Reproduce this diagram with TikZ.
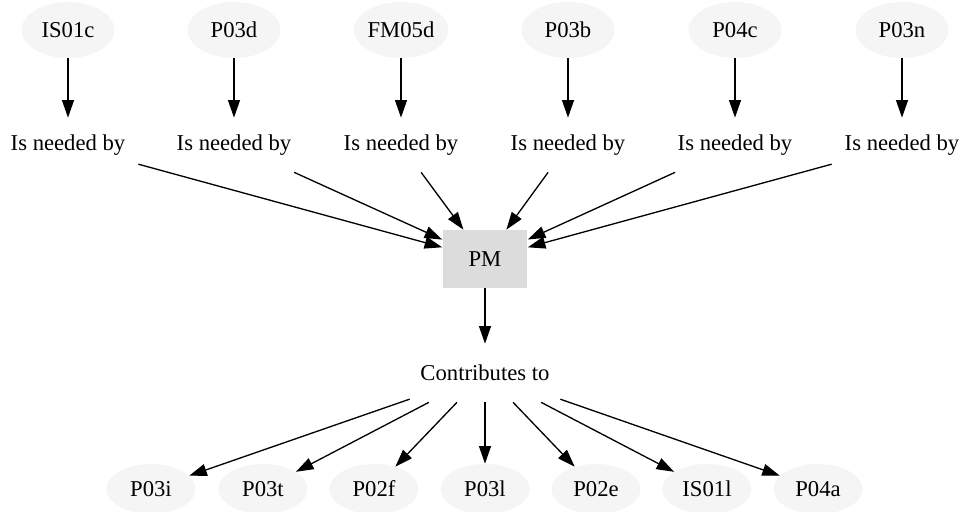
\documentclass[tikz,border=0pt]{standalone}
\usepackage{fontspec}
\setmainfont{Liberation Serif}
\usetikzlibrary{shapes.geometric,arrows.meta}
\definecolor{nodegray}{HTML}{F5F5F5}
\definecolor{boxgray}{HTML}{DCDCDC}
\tikzset{
  code/.style={ellipse,fill=nodegray,inner sep=0pt,minimum width=1.86cm,minimum height=1.12cm},
  relation/.style={inner sep=0pt,minimum width=2.8cm,minimum height=1.08cm},
  centre/.style={rectangle,fill=boxgray,inner sep=0pt,minimum width=1.7cm,minimum height=1.16cm},
  link/.style={->,line width=0.75pt}
}
\begin{document}
\begin{tikzpicture}[x=0.02cm,y=-0.02cm,font=\fontsize{12.9}{15}\selectfont,
    >={Triangle[length=10pt,width=6.8pt]}]
  \useasboundingbox (0,0) rectangle (961,511);
  % needed codes
  \foreach \x/\t [count=\i] in {68/IS01c,234/P03d,401/FM05d,568/P03b,735/P04c,902/P03n} {
    \node[code] (in\i) at (\x,30) {\t};
    \node[relation] (need\i) at (\x,145) {Is needed by};
    \draw[link] (in\i) -- (need\i);
  }
  \node[centre] (pm) at (485,259) {PM};
  \foreach \i in {1,...,6} \draw[link] (need\i) -- (pm);
  \node[relation,minimum width=3cm,minimum height=1.16cm] (contrib) at (485,373) {Contributes to};
  \draw[link] (pm) -- (contrib);
  % contributed codes
  \foreach \x/\t [count=\i] in {151/P03i,263/P03t,374/P02f,485/P03l,596/P02e,707/IS01l,818/P04a} {
    \node[code,minimum width=1.78cm,minimum height=1.0cm] (out\i) at (\x,489) {\t};
    \draw[link] (contrib) -- (out\i);
  }
\end{tikzpicture}
\end{document}
